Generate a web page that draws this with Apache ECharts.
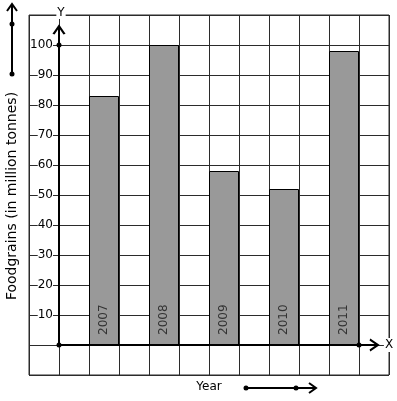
<!DOCTYPE html>
<html>
<head>
<meta charset="utf-8">
<script src="https://cdn.jsdelivr.net/npm/echarts@6/dist/echarts.min.js"></script>
<style>
html,body{margin:0;padding:0;background:#fff;}
#c{width:397px;height:401px;}
</style>
</head>
<body>
<div id="c"></div>
<script>
// ---- data ----
var years = ['2007', '2008', '2009', '2010', '2011'];
var foodgrains = [83, 100, 58, 52, 98];
var yTickLabels = [10, 20, 30, 40, 50, 60, 70, 80, 90, 100];
var yAxisTitle = 'Foodgrains (in million tonnes)';
var xAxisTitle = 'Year';

// category slots: one blank column before the axis, one gap column, then year / gap pairs
var slots = ['s0', 's1'];
years.forEach(function (y, i) { slots.push(y); slots.push('g' + i); });

var FONT = '"DejaVu Sans", sans-serif';
var chevronUp = 'path://M0,10 L5,0 L10,10';
var chevronRight = 'path://M0,0 L10,5 L0,10';
var openStyle = { color: 'rgba(0,0,0,0)', borderColor: '#000', borderWidth: 2 };

var chart = echarts.init(document.getElementById('c'), null, { renderer: 'canvas' });
chart.setOption({
  animation: false,
  backgroundColor: '#fff',
  grid: { left: 29, top: 15, width: 360, height: 360, show: true, borderColor: '#2b2b2b', borderWidth: 1, backgroundColor: '#fff' },
  xAxis: [{
    type: 'category', data: slots, boundaryGap: true,
    axisLine: { show: false }, axisTick: { show: false, interval: 0 }, axisLabel: { show: false, interval: 0 },
    splitLine: { show: true, interval: 0, lineStyle: { color: '#2b2b2b', width: 1 } }
  }, {
    type: 'value', min: -1, max: 11, show: false, position: 'top'
  }],
  yAxis: [{
    type: 'value', min: -10, max: 110, interval: 10, offset: -30,
    axisLine: { show: false }, axisTick: { show: false },
    splitLine: { show: true, lineStyle: { color: '#2b2b2b', width: 1 } },
    axisLabel: {
      margin: 6, color: '#000', fontSize: 12, fontFamily: FONT,
      backgroundColor: '#fff', padding: [1, 0, 0, 0],
      formatter: function (v) { return yTickLabels.indexOf(v) >= 0 ? String(v) : ''; }
    }
  }],
  series: [{
    type: 'bar', xAxisIndex: 0, yAxisIndex: 0,
    barWidth: '100%', barCategoryGap: 0,
    data: years.map(function (y, i) { return [y, foodgrains[i]]; }),
    itemStyle: { color: '#999999', borderColor: '#000', borderWidth: 1 },
    label: {
      show: true, position: 'insideBottom', distance: 10, rotate: 90,
      align: 'left', verticalAlign: 'middle',
      formatter: '{b}', color: '#333', fontSize: 12, fontFamily: FONT
    },
    silent: true, z: 2
  }, {
    // drawn axes with arrowheads and dots
    type: 'line', xAxisIndex: 1, yAxisIndex: 0, silent: true, z: 5,
    lineStyle: { color: '#000', width: 2 },
    symbol: 'circle', symbolSize: 5, showAllSymbol: true,
    itemStyle: { color: '#000' },
    data: [
      { value: [0, 106.3], symbol: chevronUp, symbolSize: [11, 8], symbolOffset: [0, '50%'], itemStyle: openStyle },
      [0, 100],
      [0, 0],
      [10, 0],
      { value: [10.63, 0], symbol: chevronRight, symbolSize: [8, 11], symbolOffset: ['-50%', 0], itemStyle: openStyle }
    ]
  }],
  graphic: [
    // Y and X axis letters
    { type: 'text', z: 100, style: { text: 'Y', x: 61, y: 13, align: 'center', verticalAlign: 'middle', font: '12px ' + FONT, fill: '#000', backgroundColor: '#fff', padding: [0, 1] } },
    { type: 'text', z: 100, style: { text: 'X', x: 389, y: 345, align: 'center', verticalAlign: 'middle', font: '12px ' + FONT, fill: '#000', backgroundColor: '#fff', padding: [1, 1] } },
    // axis titles
    { type: 'text', z: 100, x: 12, y: 196, rotation: Math.PI / 2, style: { text: yAxisTitle, x: 0, y: 0, align: 'center', verticalAlign: 'middle', font: '14px ' + FONT, fill: '#000' } },
    { type: 'text', z: 100, style: { text: xAxisTitle, x: 209, y: 387, align: 'center', verticalAlign: 'middle', font: '12px ' + FONT, fill: '#000' } },
    // left decorative arrow
    { type: 'line', z: 100, shape: { x1: 12, y1: 74, x2: 12, y2: 5 }, style: { stroke: '#000', lineWidth: 2 } },
    { type: 'polyline', z: 100, shape: { points: [[7, 11], [12, 4], [17, 11]] }, style: { stroke: '#000', lineWidth: 2, fill: null } },
    { type: 'circle', z: 100, shape: { cx: 12, cy: 24, r: 2.5 }, style: { fill: '#000' } },
    { type: 'circle', z: 100, shape: { cx: 12, cy: 74, r: 2.5 }, style: { fill: '#000' } },
    // bottom decorative arrow
    { type: 'line', z: 100, shape: { x1: 246, y1: 388, x2: 316, y2: 388 }, style: { stroke: '#000', lineWidth: 2 } },
    { type: 'polyline', z: 100, shape: { points: [[309, 383], [316, 388], [309, 393]] }, style: { stroke: '#000', lineWidth: 2, fill: null } },
    { type: 'circle', z: 100, shape: { cx: 246, cy: 388, r: 2.5 }, style: { fill: '#000' } },
    { type: 'circle', z: 100, shape: { cx: 296, cy: 388, r: 2.5 }, style: { fill: '#000' } }
  ]
});
</script>
</body>
</html>
